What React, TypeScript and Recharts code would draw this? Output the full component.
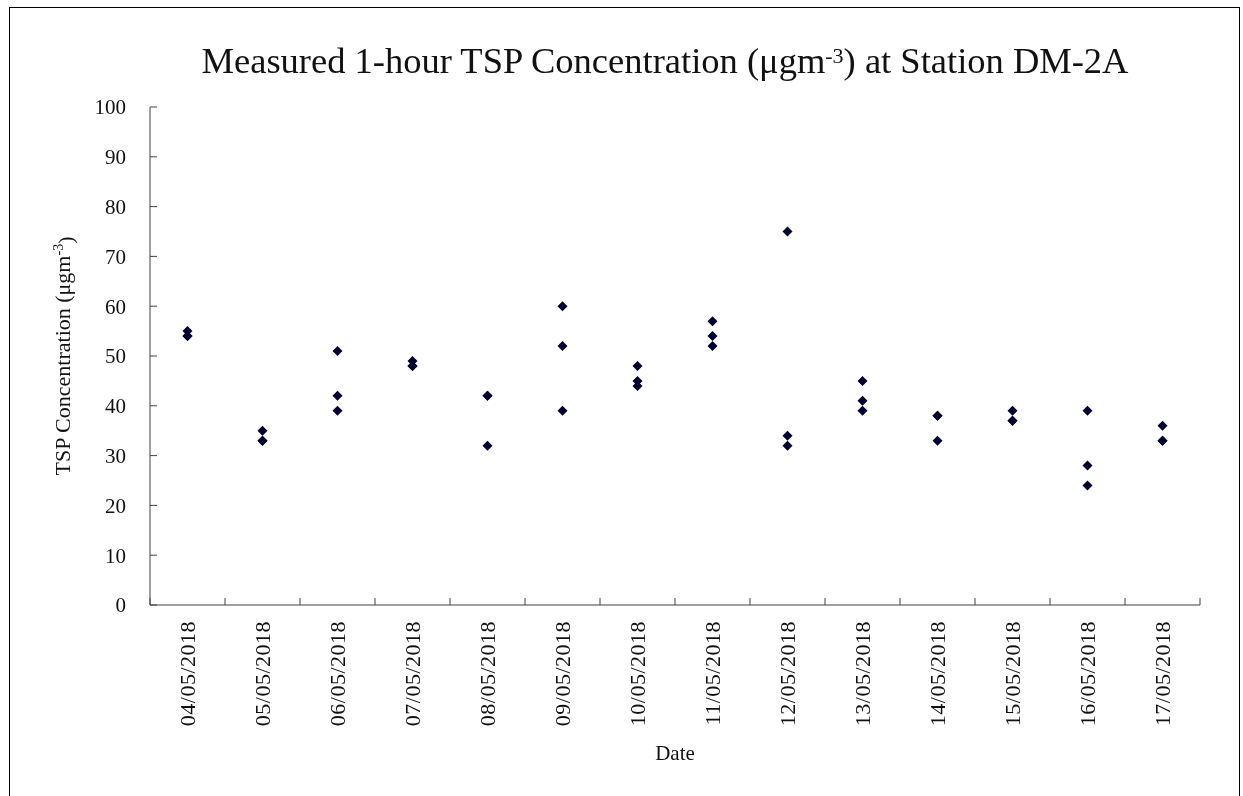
import React from "react";
import { ScatterChart, Scatter, XAxis, YAxis, Label } from "recharts";

const dates = [
  "04/05/2018",
  "05/05/2018",
  "06/05/2018",
  "07/05/2018",
  "08/05/2018",
  "09/05/2018",
  "10/05/2018",
  "11/05/2018",
  "12/05/2018",
  "13/05/2018",
  "14/05/2018",
  "15/05/2018",
  "16/05/2018",
  "17/05/2018",
];

// three hourly readings per day (overlapping ones share a value)
const reading1 = [55, 35, 51, 49, 42, 60, 48, 57, 75, 45, 38, 39, 39, 36];
const reading2 = [54, 33, 42, 48, 42, 52, 45, 54, 34, 41, 38, 37, 28, 33];
const reading3 = [54, 33, 39, 48, 32, 39, 44, 52, 32, 39, 33, 37, 24, 33];

const yTicks = [0, 10, 20, 30, 40, 50, 60, 70, 80, 90, 100];
const xTicks = dates.map((_, i) => i).concat(dates.length);

const W = 1230;
const H = 780;
const MARGIN = { top: 99, right: 38, bottom: 33, left: 0 };
const Y_AXIS_W = 142;
const X_AXIS_H = 150;
const PLOT_W = W - MARGIN.left - MARGIN.right - Y_AXIS_W;
const BAND = PLOT_W / dates.length;

const FONT = "'Liberation Serif', 'Times New Roman', serif";
const AXIS = "#404040";
const MARK = "#000030";

const toPoints = (vals: number[]) =>
  dates.map((d, i) => ({ x: i + 0.5, y: vals[i], date: d }));

const Diamond = (props: any) => {
  const { cx, cy } = props;
  if (cx == null || cy == null) return null;
  const r = 5;
  return (
    <polygon
      points={`${cx},${cy - r} ${cx + r},${cy} ${cx},${cy + r} ${cx - r},${cy}`}
      fill={MARK}
    />
  );
};

const YTick = (props: any) => {
  const { x, y, payload } = props;
  return (
    <g>
      <line x1={x + 24} x2={x + 31} y1={y} y2={y} stroke={AXIS} />
      <text x={x} y={y} dy="0.35em" textAnchor="end" fontSize={21} fill="#111" fontFamily={FONT}>
        {payload.value}
      </text>
    </g>
  );
};

const XTick = (props: any) => {
  const { x, y, payload } = props;
  const i = payload.value;
  const lx = x + BAND / 2;
  const ly = y + 16;
  return (
    <g>
      <line x1={x} x2={x} y1={y} y2={y - 7} stroke={AXIS} />
      {i < dates.length && (
        <text
          x={lx}
          y={ly}
          dy="0.35em"
          textAnchor="end"
          transform={`rotate(-90, ${lx}, ${ly})`}
          fontSize={22}
          letterSpacing={0.5}
          fill="#111"
          fontFamily={FONT}
        >
          {dates[i]}
        </text>
      )}
    </g>
  );
};

const YLabel = (props: any) => {
  const { viewBox } = props;
  const cx = viewBox.x + 54;
  const cy = viewBox.y + viewBox.height / 2;
  return (
    <text
      x={cx}
      y={cy}
      dy="0.35em"
      textAnchor="middle"
      transform={`rotate(-90, ${cx}, ${cy})`}
      fontSize={22}
      fill="#111"
      fontFamily={FONT}
    >
      TSP Concentration (μgm
      <tspan dy="-0.45em" fontSize={14}>-3</tspan>
      <tspan dy="0.45em">)</tspan>
    </text>
  );
};

const XLabel = (props: any) => {
  const { viewBox } = props;
  return (
    <text
      x={viewBox.x + viewBox.width / 2}
      y={viewBox.y + 148}
      dy="0.35em"
      textAnchor="middle"
      fontSize={21}
      fill="#111"
      fontFamily={FONT}
    >
      Date
    </text>
  );
};

export default function App() {
  return (
    <div style={{ position: "relative", width: W, height: H }}>
      <div
        style={{
          position: "fixed",
          left: 9,
          top: 7,
          width: 1229,
          height: 830,
          border: "1px solid #000",
          pointerEvents: "none",
        }}
      />
      <div
        style={{
          position: "absolute",
          left: 657,
          top: 35,
          transform: "translateX(-50%)",
          whiteSpace: "nowrap",
          fontFamily: FONT,
          fontSize: 36.5,
          lineHeight: 1,
          color: "#111",
        }}
      >
        Measured 1-hour TSP Concentration (μgm
        <sup style={{ fontSize: 22, verticalAlign: "0.45em" }}>-3</sup>) at Station DM-2A
      </div>
      <ScatterChart width={W} height={H} margin={MARGIN}>
        <XAxis
          type="number"
          dataKey="x"
          domain={[0, dates.length]}
          ticks={xTicks}
          interval={0}
          height={X_AXIS_H}
          tickSize={0}
          tickMargin={0}
          tickLine={false}
          axisLine={{ stroke: AXIS }}
          tick={<XTick />}
        >
          <Label content={<XLabel />} />
        </XAxis>
        <YAxis
          type="number"
          dataKey="y"
          domain={[0, 100]}
          ticks={yTicks}
          interval={0}
          width={Y_AXIS_W}
          tickSize={0}
          tickMargin={24}
          tickLine={false}
          axisLine={{ stroke: AXIS }}
          tick={<YTick />}
        >
          <Label content={<YLabel />} />
        </YAxis>
        <Scatter data={toPoints(reading1)} fill={MARK} shape={<Diamond />} isAnimationActive={false} />
        <Scatter data={toPoints(reading2)} fill={MARK} shape={<Diamond />} isAnimationActive={false} />
        <Scatter data={toPoints(reading3)} fill={MARK} shape={<Diamond />} isAnimationActive={false} />
      </ScatterChart>
    </div>
  );
}
